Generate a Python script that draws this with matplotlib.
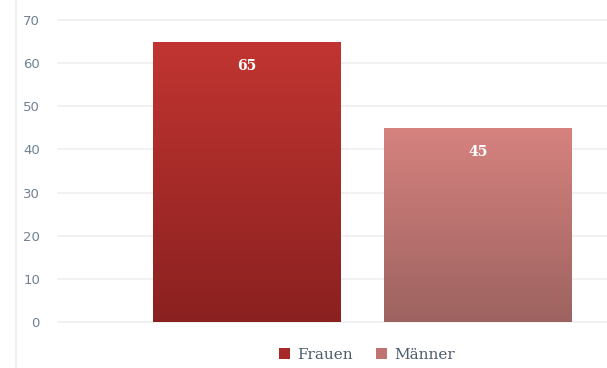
import matplotlib
matplotlib.use("Agg")
import matplotlib.pyplot as plt
import numpy as np
from matplotlib.colors import LinearSegmentedColormap
from matplotlib.lines import Line2D
from matplotlib.patches import Patch

# data
series = ["Frauen", "Männer"]
values = [65, 45]
yticks = [0, 10, 20, 30, 40, 50, 60, 70]

top_colors = ["#c13531", "#d6827f"]
bottom_colors = ["#8a2120", "#9d6360"]

fig = plt.figure(figsize=(6.07, 3.68), dpi=100)
ax = fig.add_axes([0.0956, 0.125, 0.9044, 0.8207])

x = np.arange(len(series))
width = 0.81
bars = ax.bar(x, values, width=width, color="none", edgecolor="none", zorder=3)

# vertical gradient fill clipped to each bar
for bar, c_top, c_bot in zip(bars, top_colors, bottom_colors):
    cmap = LinearSegmentedColormap.from_list("g", [c_bot, c_top])
    grad = np.linspace(0, 1, 256).reshape(-1, 1)
    x0, y0 = bar.get_x(), bar.get_y()
    im = ax.imshow(grad, cmap=cmap, aspect="auto", origin="lower",
                   extent=[x0, x0 + bar.get_width(), y0, y0 + bar.get_height()],
                   zorder=3)
    im.set_clip_path(bar)

for xi, v in zip(x, values):
    ax.text(xi, v - 5.6, str(v), ha="center", va="center", color="white",
            fontsize=10, fontweight="bold", family="DejaVu Serif", zorder=4)

ax.set_xlim(-0.816, 1.56)
ax.set_ylim(0, 70)
ax.set_yticks(yticks)
ax.set_xticks([])
ax.grid(axis="y", color="#f0f0f0", linewidth=1.3, zorder=0)
for gl in ax.get_ygridlines():
    gl.set_clip_on(False)
for s in ax.spines.values():
    s.set_visible(False)
ax.tick_params(axis="y", length=0, pad=13, labelsize=9.5, labelcolor="#6f8193")

# faint vertical axis line on the far left
fig.add_artist(Line2D([16 / 607, 16 / 607], [0, 1], color="#eeeeee", linewidth=1.2))

handles = [Patch(facecolor=c, edgecolor="none") for c in ["#a52a28", "#c07471"]]
fig.legend(handles, series, loc="center", bbox_to_anchor=(367 / 607, 1 - 355 / 368),
           ncol=2, frameon=False, handlelength=0.75, handleheight=0.75,
           handletextpad=0.45, columnspacing=1.5,
           prop={"family": "DejaVu Serif", "size": 11}, labelcolor="#4d5c6c")

fig.savefig("out.png", dpi=100)
